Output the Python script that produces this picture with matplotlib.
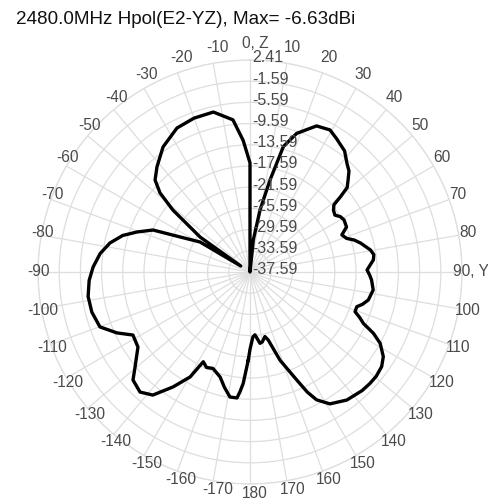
import matplotlib
matplotlib.use("Agg")
import matplotlib.pyplot as plt
import numpy as np
from matplotlib import transforms

plt.rcParams['font.family'] = ['Liberation Sans', 'DejaVu Sans']

title = "2480.0MHz Hpol(E2-YZ), Max= -6.63dBi"

angles_deg = [-178.9, -176.5, -175.2, -174.1, -170.9, -167.5, -164.1, -159.0, -155.5, -152.5,
              -150.3, -146.2, -141.7, -137.5, -132.7, -129.6, -123.8, -118.3, -114.6, -110.1,
              -104.2, -98.6, -93.0, -88.2, -83.0, -78.3, -74.0, -70.5, -66.6, -62.5,
              -59.0, -57.0, -55.0, -53.1, -51.2, -48.7, -45.9, -41.5, -34.8, -26.9,
              -20.0, -12.9, -6.4, -3.0, 0.0, 2.0, 5.9, 9.2, 12.3, 14.9,
              18.6, 24.5, 29.4, 33.0, 38.0, 41.7, 44.4, 47.0, 49.0, 50.2,
              51.3, 53.5, 56.2, 58.5, 61.0, 65.0, 68.0, 70.8, 73.0, 75.4,
              79.6, 82.0, 84.4, 89.0, 91.5, 93.8, 98.3, 103.3, 106.0, 108.0,
              110.7, 112.5, 114.4, 116.4, 118.7, 122.4, 125.7, 129.6, 133.0, 136.6,
              142.9, 148.8, 152.5, 154.5, 156.6, 161.2, 165.0, 167.0, 170.0, 172.0,
              175.5, 177.5, 180.0]

gain_dbi = [-21.0, -16.5, -14.9, -13.7, -13.7, -15.3, -17.0, -18.1, -17.8, -18.5,
            -14.8, -11.5, -8.0, -6.87, -7.55, -9.44, -12.15, -12.5, -9.98, -7.44,
            -6.8, -6.7, -7.2, -7.97, -9.1, -10.6, -12.6, -14.97, -17.65, -23.8,
            -26.6, -35.5, -26.1, -23.4, -18.9, -15.0, -12.65, -11.1, -8.85, -7.13,
            -6.7, -6.63, -8.7, -12.7, -17.0, -37.59, -31.5, -25.7, -19.8, -13.1,
            -10.0, -7.3, -6.83, -7.6, -8.6, -10.1, -10.9, -12.3, -13.3, -15.3,
            -17.3, -18.0, -18.3, -17.6, -17.3, -17.5, -18.9, -18.3, -17.0, -16.0,
            -14.5, -14.0, -14.2, -15.5, -15.0, -14.6, -14.1, -14.65, -15.5, -16.4,
            -16.4, -15.2, -14.1, -11.6, -9.6, -7.8, -7.0, -6.7, -6.7, -6.8,
            -7.3, -8.5, -10.4, -12.5, -15.4, -20.0, -24.3, -25.1, -24.2, -24.0,
            -25.7, -25.3, -23.0]

ring_values = [-37.59, -33.59, -29.59, -25.59, -21.59, -17.59, -13.59, -9.59, -5.59, -1.59, 2.41]
ring_labels = ['-37.59', '-33.59', '-29.59', '-25.59', '-21.59', '-17.59', '-13.59',
               '-9.59', '-5.59', '-1.59', '2.41']

theta_tick_deg = [0, 10, 20, 30, 40, 50, 60, 70, 80, 90, 100, 110, 120, 130, 140, 150, 160, 170,
                  180, 190, 200, 210, 220, 230, 240, 250, 260, 270, 280, 290, 300, 310, 320, 330, 340, 350]
theta_tick_labels = ['0, Z', '10', '20', '30', '40', '50', '60', '70', '80', '90, Y', '100', '110',
                     '120', '130', '140', '150', '160', '170', '180', '-170', '-160', '-150', '-140',
                     '-130', '-120', '-110', '-100', '-90', '-80', '-70', '-60', '-50', '-40',
                     '-30', '-20', '-10']

W, H = 488, 504
cx, cy, R = 250, 272, 212

fig = plt.figure(figsize=(W / 100, H / 100), dpi=100)
ax = fig.add_axes([(cx - R) / W, (H - cy - R) / H, 2 * R / W, 2 * R / H], projection='polar')
ax.set_theta_zero_location('N')
ax.set_theta_direction(-1)
rmin, rmax = ring_values[0], ring_values[-1]
ax.set_ylim(rmin, rmax)

grid_color = '#dedede'
ax.set_thetagrids(theta_tick_deg, [''] * len(theta_tick_deg))
ax.set_rgrids(ring_values[1:], labels=[''] * (len(ring_values) - 1))
ax.grid(True, color=grid_color, linewidth=0.9)
ax.spines['polar'].set_color(grid_color)
ax.spines['polar'].set_linewidth(0.9)

th = np.deg2rad(np.append(angles_deg, angles_deg[0] + 360))
rr = np.append(gain_dbi, gain_dbi[0])
ax.plot(th, rr, color='black', linewidth=2.4, solid_joinstyle='round')

label_color = '#4a4a4a'
# angle labels around the outer ring (slightly elliptical placement, as in the source)
for d, lab in zip(theta_tick_deg, theta_tick_labels):
    t = np.deg2rad(d)
    c = np.cos(t)
    dx = 216 * np.sin(t) + 5
    dy = (228 if c > 0 else 221) * c
    tr = transforms.offset_copy(ax.transData, fig=fig, x=dx, y=dy, units='dots')
    ax.text(0, rmin, lab, transform=tr, ha='center', va='center',
            fontsize=11.2, color=label_color, clip_on=False)

off = transforms.offset_copy(ax.transData, fig=fig, x=2, y=2, units='dots')
for v, lab in zip(ring_values, ring_labels):
    ax.text(0, v, lab, transform=off, ha='left', va='center', fontsize=11.5, color=label_color)

fig.text(16 / W, 1 - 19 / H, title, ha='left', va='center', fontsize=13.6, color='#111111')

fig.savefig('out.png', dpi=100)
